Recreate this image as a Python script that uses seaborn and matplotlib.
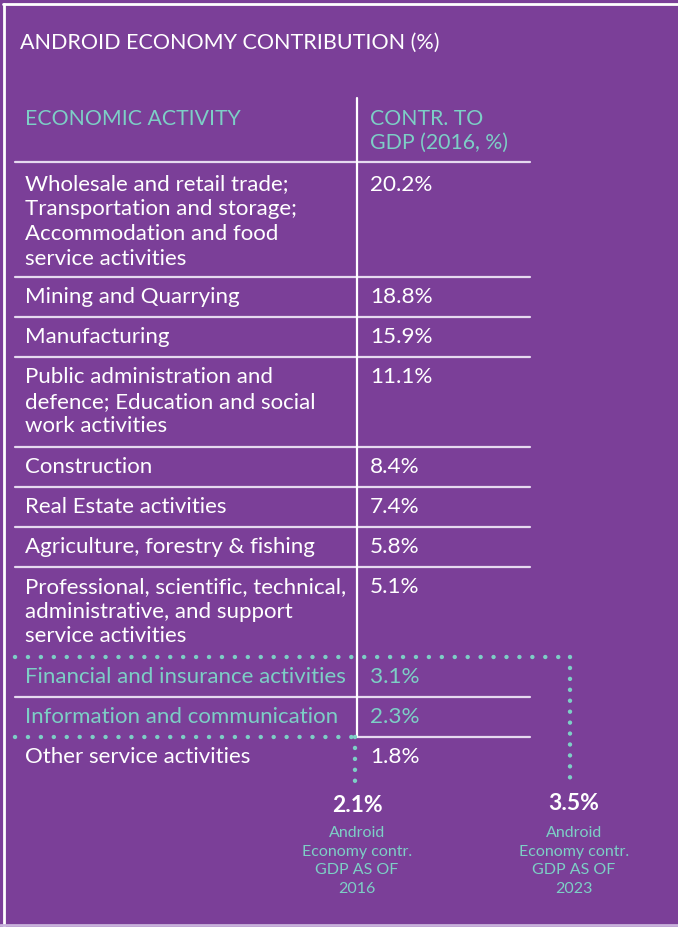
import matplotlib.pyplot as plt
import seaborn as sns

# Data
activities = [
    ["Wholesale and retail trade;", "Transportation and storage;",
     "Accommodation and food", "service activities"],
    ["Mining and Quarrying"],
    ["Manufacturing"],
    ["Public administration and", "defence; Education and social", "work activities"],
    ["Construction"],
    ["Real Estate activities"],
    ["Agriculture, forestry & fishing"],
    ["Professional, scientific, technical,", "administrative, and support",
     "service activities"],
    ["Financial and insurance activities"],
    ["Information and communication"],
    ["Other service activities"],
]
contr_2016 = [20.2, 18.8, 15.9, 11.1, 8.4, 7.4, 5.8, 5.1, 3.1, 2.3, 1.8]
android_rows = [8, 9]  # rows that make up the android economy
android_share = [2.1, 3.5]
android_years = ["2016", "2023"]

PURPLE = "#7b3f98"
TEAL = "#7dcfc6"
LINE = "#e6daf0"

sns.set_style("white")
plt.rcParams["font.family"] = ["Lato", "DejaVu Sans"]

fig = plt.figure(figsize=(6.78, 9.27), dpi=100, facecolor=PURPLE)
ax = fig.add_axes([0, 0, 1, 1])
ax.set_facecolor(PURPLE)
ax.set_xlim(0, 678)
ax.set_ylim(927, 0)
ax.axis("off")

# frame
ax.plot([3, 678], [4, 4], color="white", lw=2)
ax.plot([4, 4], [4, 927], color="white", lw=2)
ax.plot([0, 678], [925, 925], color="#c9b3dc", lw=2)

ax.text(20, 43, "ANDROID ECONOMY CONTRIBUTION (%)", color="white",
        fontsize=15.5, va="center", ha="left")

# header
hdr = dict(color=TEAL, fontsize=15.3, va="center")
ax.text(25, 119, "ECONOMIC ACTIVITY", **hdr)
ax.text(370, 119, "CONTR. TO", **hdr)
ax.text(370, 143, "GDP (2016, %)", **hdr)
ax.plot([15, 530], [162, 162], color=LINE, lw=1.6)

# rows
top = 162
tops = []
for lines, val in zip(activities, contr_2016):
    tops.append(top)
    top += 15 + 25 * len(lines)
tops.append(top)

for i, (lines, val) in enumerate(zip(activities, contr_2016)):
    col = TEAL if i in android_rows else "white"
    y0 = tops[i] + (22.5 if i == 0 else 20)
    for k, ln in enumerate(lines):
        ax.text(25, y0 + 24.7 * k, ln, color=col, fontsize=16, va="center")
    ax.text(370, y0, f"{val}%", color=col, fontsize=16.2, va="center")
    yb = tops[i + 1]
    if i == len(activities) - 1:
        continue
    if i + 1 == android_rows[0]:
        continue
    if i == android_rows[-1]:
        ax.plot([357, 530], [yb, yb], color=LINE, lw=1.6)
    else:
        ax.plot([15, 530], [yb, yb], color=LINE, lw=1.6)

# column divider
ax.plot([357, 357], [98, tops[android_rows[-1] + 1]], color="white", lw=1.6)

# dotted brackets
dot = dict(color=TEAL, lw=3.2, dash_capstyle="round", solid_capstyle="round")
y_a = tops[android_rows[0]]
y_b = tops[android_rows[-1] + 1]
ax.plot([15, 570], [y_a, y_a], linestyle=(0, (0.01, 2.9)), **dot)
ax.plot([570, 570], [y_a, 781], linestyle=(0, (0.01, 2.45)), **dot)
ax.plot([15, 355], [y_b, y_b], linestyle=(0, (0.01, 2.9)), **dot)
ax.plot([355, 355], [y_b, 784], linestyle=(0, (0.01, 2.45)), **dot)

# android economy notes
for xc, share, yr, yv in zip([357, 574], android_share, android_years, [805, 803]):
    ax.text(xc, yv, f"{share}%", color="white", fontsize=16.5, fontweight="bold",
            ha="center", va="center")
    for k, ln in enumerate(["Android", "Economy contr.", "GDP AS OF", yr]):
        ax.text(xc, 833 + 18.7 * k, ln, color=TEAL, fontsize=11.5, ha="center",
                va="center")

fig.savefig("out.png", dpi=100, facecolor=PURPLE)
